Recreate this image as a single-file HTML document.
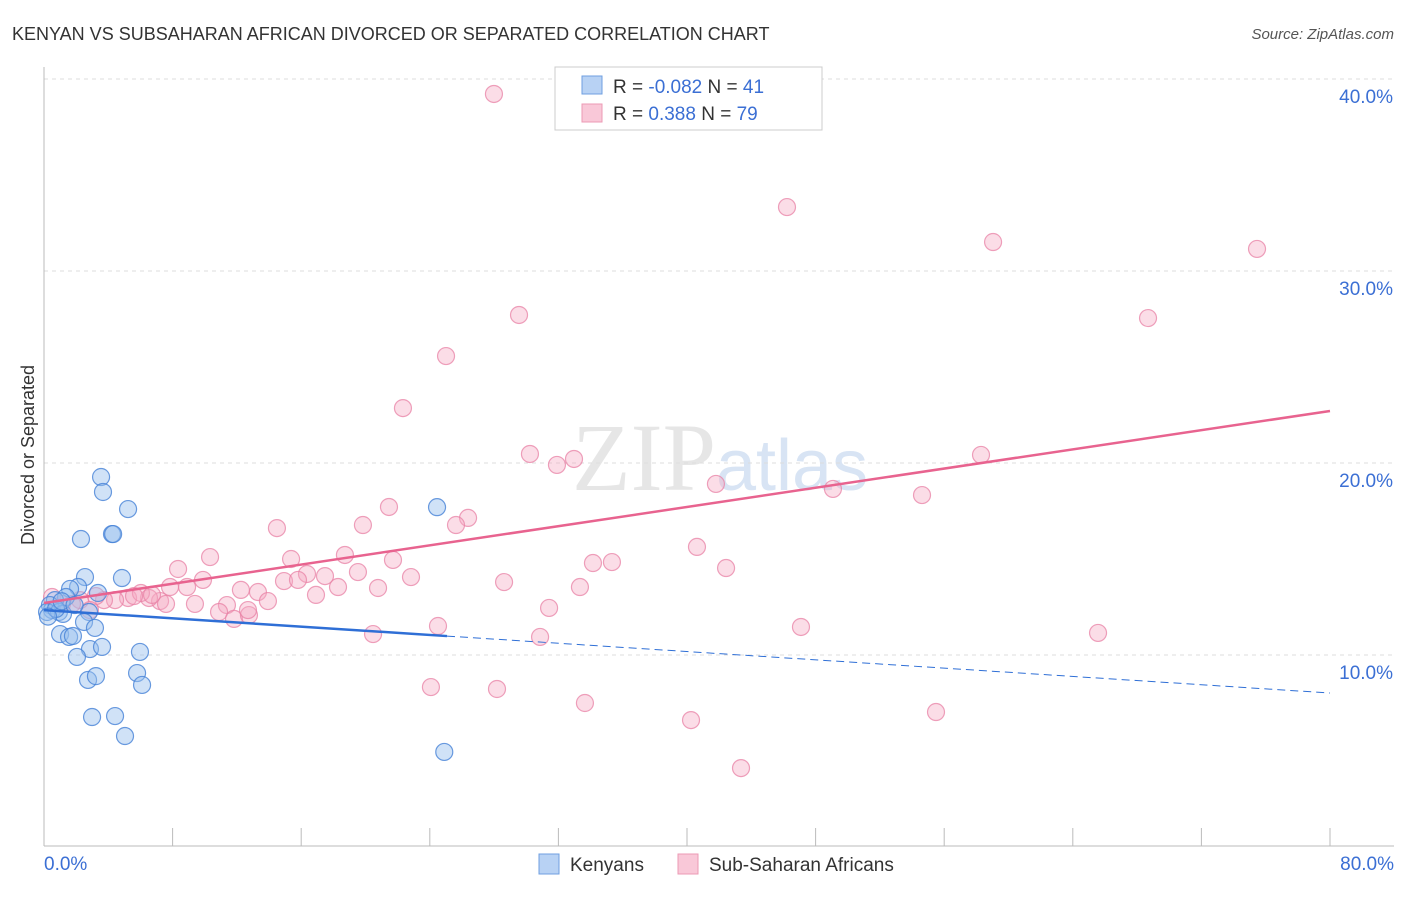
<!DOCTYPE html>
<html><head><meta charset="utf-8"><style>
body{margin:0;background:#fff;font-family:"Liberation Sans",sans-serif}
</style></head><body>
<svg width="1406" height="892" viewBox="0 0 1406 892" xmlns="http://www.w3.org/2000/svg" font-family="Liberation Sans, sans-serif">
<text x="12" y="40" font-size="18" fill="#333">KENYAN VS SUBSAHARAN AFRICAN DIVORCED OR SEPARATED CORRELATION CHART</text>
<text x="1394" y="39" font-size="15" fill="#555" text-anchor="end" font-style="italic">Source: ZipAtlas.com</text>
<text x="720" y="490" font-size="96" fill="#e6e6e6" text-anchor="middle" font-family="Liberation Serif, serif">ZIP<tspan fill="#d8e4f4" font-family="Liberation Sans, sans-serif" font-size="72">atlas</tspan></text>
<g id="grid"></g><g id="axes"></g>
<g id="pink"></g><g id="blue"></g><g id="lines"></g>
<text transform="translate(34,455) rotate(-90)" font-size="18" fill="#333" text-anchor="middle">Divorced or Separated</text>
<g>
<rect x="555" y="67" width="267" height="63" fill="#fff" stroke="#ccc"/>
<rect x="582" y="76" width="20" height="18" fill="#b8d2f4" stroke="#6f9fe0"/>
<rect x="582" y="104" width="20" height="18" fill="#f9c8d8" stroke="#ec9ab4"/>
<text x="613" y="93" font-size="19" fill="#333">R = <tspan fill="#3b6fd4">-0.082</tspan>   N = <tspan fill="#3b6fd4">41</tspan></text>
<text x="613" y="120" font-size="19" fill="#333">R =   <tspan fill="#3b6fd4">0.388</tspan>   N = <tspan fill="#3b6fd4">79</tspan></text>
</g>
<g>
<rect x="539" y="854" width="20" height="20" fill="#b8d2f4" stroke="#6f9fe0"/>
<text x="570" y="871" font-size="19" fill="#333">Kenyans</text>
<rect x="678" y="854" width="20" height="20" fill="#f9c8d8" stroke="#ec9ab4"/>
<text x="709" y="871" font-size="19" fill="#333">Sub-Saharan Africans</text>
</g>
</svg>
<script>
const yTicks=[10,20,30,40];
const yTickLabels=["10.0%","20.0%","30.0%","40.0%"];
const xEnds=["0.0%","80.0%"];
const blueX=[3.55,3.67,5.23,2.3,4.23,4.3,2.55,4.85,2.12,1.62,3.36,1.37,0.68,0.37,0.5,0.19,0.93,1.18,2.8,2.49,3.17,1.0,1.56,1.8,2.86,3.61,5.97,2.05,2.74,3.23,5.79,6.1,2.99,4.42,5.04,24.45,24.9,0.75,0.25,1.1,1.9];
const blueY=[19.27,18.49,17.6,16.04,16.3,16.3,14.06,14.01,13.54,13.44,13.23,13.02,12.86,12.6,12.34,12.24,12.24,12.14,12.24,11.72,11.41,11.09,10.94,10.99,10.31,10.42,10.16,9.9,8.7,8.9,9.06,8.44,6.77,6.82,5.78,17.7,4.95,12.4,12.0,12.8,12.6];
const pinkX=[27.99,46.22,59.04,75.46,29.55,68.68,25.01,22.33,30.23,31.91,32.97,58.29,41.8,49.08,54.62,21.46,26.38,25.63,19.84,14.49,10.33,18.72,15.37,40.62,35.33,34.15,8.34,21.71,42.43,19.53,22.83,16.36,17.48,9.89,14.93,15.8,28.62,7.84,8.9,33.34,12.25,20.78,18.29,16.92,13.31,13.93,11.38,9.39,7.22,6.53,5.23,4.42,3.73,3.23,6.03,6.72,5.6,2.24,1.74,1.12,0.5,31.42,10.89,11.82,12.75,47.09,24.51,20.47,30.86,65.57,24.07,28.18,33.65,40.25,55.49,43.36,7.59,12.69,2.86];
const pinkY=[39.22,33.33,31.51,31.15,27.71,27.55,25.57,22.86,20.47,19.9,20.21,20.42,18.91,18.65,18.33,17.71,17.14,16.77,16.77,16.61,15.1,15.21,15.0,15.63,14.84,14.79,14.48,14.95,14.53,14.32,14.06,14.22,14.11,13.91,13.85,13.91,13.8,13.54,13.54,13.54,13.39,13.49,13.54,13.13,13.28,12.81,12.6,12.66,12.81,12.97,12.97,12.86,12.86,13.07,13.23,13.13,13.07,12.86,12.66,12.66,13.02,12.45,12.24,11.88,12.08,11.46,11.51,11.09,10.94,11.15,8.33,8.23,7.5,6.61,7.03,4.11,12.66,12.34,12.34];
const blueFit=[12.34,-0.054]; const blueSolidEnd=25.07;
const pinkFit=[12.71,0.125];
const NS="http://www.w3.org/2000/svg";
const sx=v=>44+v*16.075, sy=v=>847-v*19.2;
function mk(tag,attrs,parent){const e=document.createElementNS(NS,tag);for(const k in attrs)e.setAttribute(k,attrs[k]);document.getElementById(parent).appendChild(e);return e;}
yTicks.forEach((t,i)=>{
 const g=mk('line',{x1:44,x2:1394,y1:sy(t),y2:sy(t),stroke:'#ddd','stroke-dasharray':'4,4'},'grid');
 
 
 const l=mk('text',{x:1393,y:sy(t)+24,'font-size':19,fill:'#3b6fd4','text-anchor':'end'},'axes');
 l.textContent=yTickLabels[i];
 
 
});
const ya=mk('line',{x1:44,x2:44,y1:67,y2:846,stroke:'#bbb'},'axes');


const xa=mk('line',{x1:44,x2:1394,y1:846,y2:846,stroke:'#bbb'},'axes');


for(let i=1;i<=10;i++){const t=mk('line',{x1:sx(i*8),x2:sx(i*8),y1:828,y2:846,stroke:'#bbb'},'axes');
 
 }
[[0,'start',44],[80,'end',1394]].forEach((d,i)=>{const l=mk('text',{x:d[2],y:870,'font-size':19,fill:'#3b6fd4','text-anchor':d[1]},'axes');l.textContent=xEnds[i];
 
 });
pinkX.forEach((x,i)=>{const c=mk('circle',{cx:sx(x),cy:sy(pinkY[i]),r:8.5,fill:'rgba(244,170,196,0.4)',stroke:'rgba(232,130,165,0.75)','stroke-width':1.2},'pink');
 
 });
blueX.forEach((x,i)=>{const c=mk('circle',{cx:sx(x),cy:sy(blueY[i]),r:8.5,fill:'rgba(150,190,238,0.45)',stroke:'rgba(70,130,215,0.8)','stroke-width':1.2},'blue');
 
 });
const f=(fit,x)=>fit[0]+fit[1]*x;
const b1=mk('line',{x1:sx(0),y1:sy(f(blueFit,0)),x2:sx(blueSolidEnd),y2:sy(f(blueFit,blueSolidEnd)),stroke:'#2f6fd6','stroke-width':2.5},'lines');


const b2=mk('line',{x1:sx(blueSolidEnd),y1:sy(f(blueFit,blueSolidEnd)),x2:sx(80),y2:sy(f(blueFit,80)),stroke:'#2f6fd6','stroke-width':1,'stroke-dasharray':'8,5'},'lines');


const p1=mk('line',{x1:sx(0),y1:sy(f(pinkFit,0)),x2:sx(80),y2:sy(f(pinkFit,80)),stroke:'#e8638f','stroke-width':2.5},'lines');


</script>
</body></html>
